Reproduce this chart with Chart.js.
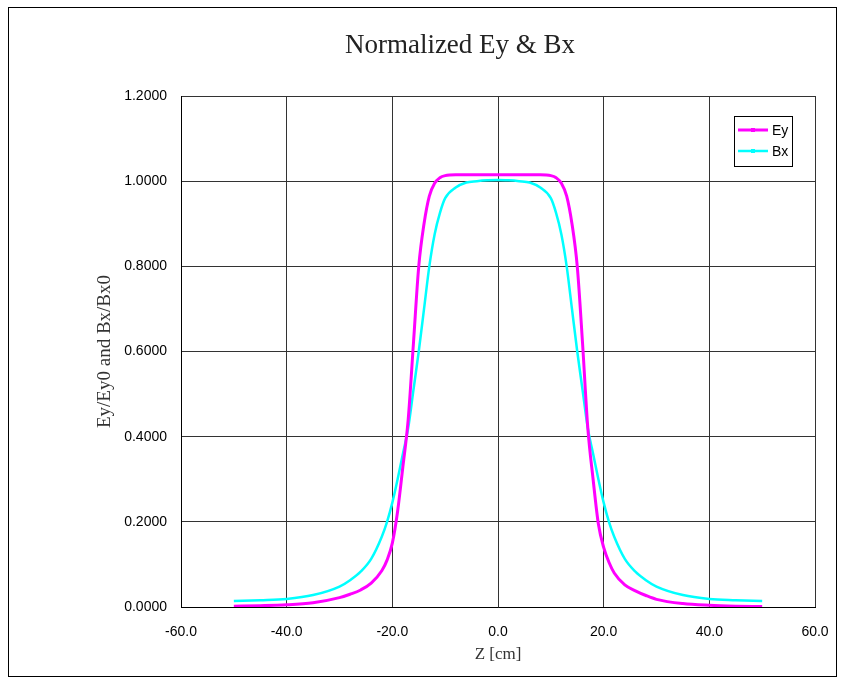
<!DOCTYPE html>
<html>
<head>
<meta charset="utf-8">
<script src="https://cdn.jsdelivr.net/npm/chart.js@4.4.0/dist/chart.umd.min.js"></script>
<style>
  html, body { margin: 0; padding: 0; background: #fff; }
  #wrap { width: 841px; height: 677px; }
</style>
</head>
<body>
<div id="wrap"><canvas id="chart" width="841" height="677"></canvas></div>
<script>
// Z positions [cm]
const zValues = [-50, -45, -40, -35, -30, -28, -26, -24, -22, -21, -20, -19, -18, -17, -16, -15, -14, -13, -12, -11, -10, -8, -6, -4, -2,
  0, 2, 4, 6, 8, 10, 11, 12, 13, 14, 15, 16, 17, 18, 19, 20, 21, 22, 24, 26, 28, 30, 35, 40, 45, 50];

// Ey/Ey0
const eyValues = [0.002, 0.003, 0.005, 0.010, 0.022, 0.030, 0.040, 0.056, 0.085, 0.110, 0.150, 0.225, 0.330, 0.440, 0.620, 0.800, 0.900, 0.965, 0.995, 1.008, 1.013, 1.015, 1.015, 1.015, 1.015,
  1.015, 1.015, 1.015, 1.015, 1.015, 1.013, 1.008, 0.995, 0.965, 0.900, 0.800, 0.620, 0.420, 0.300, 0.195, 0.140, 0.105, 0.080, 0.052, 0.038, 0.027, 0.018, 0.008, 0.004, 0.002, 0.001];

// Bx/Bx0
const bxValues = [0.014, 0.016, 0.019, 0.028, 0.048, 0.063, 0.083, 0.113, 0.165, 0.200, 0.245, 0.300, 0.360, 0.420, 0.510, 0.600, 0.700, 0.800, 0.875, 0.925, 0.960, 0.985, 0.997, 1.000, 1.002,
  1.003, 1.002, 1.000, 0.997, 0.985, 0.960, 0.925, 0.875, 0.800, 0.700, 0.600, 0.510, 0.420, 0.360, 0.300, 0.245, 0.200, 0.165, 0.113, 0.083, 0.063, 0.048, 0.028, 0.019, 0.016, 0.014];

const seriesNames = ["Ey", "Bx"];
const seriesColors = ["#ff00ff", "#00ffff"];

const xTicks = [-60, -40, -20, 0, 20, 40, 60];
const yTicks = [0, 0.2, 0.4, 0.6, 0.8, 1.0, 1.2];

const chartTitle = "Normalized Ey & Bx";

const toPoints = (vals) => zValues.map((z, i) => ({ x: z, y: vals[i] }));

// frame, title and legend box drawn by hand
const framePlugin = {
  id: "frame",
  beforeDraw(chart) {
    const ctx = chart.ctx;
    ctx.save();
    ctx.fillStyle = "#fff";
    ctx.fillRect(0, 0, chart.width, chart.height);
    ctx.restore();
  },
  afterDraw(chart) {
    const ctx = chart.ctx;
    ctx.save();
    ctx.strokeStyle = "#000";
    ctx.lineWidth = 1;
    ctx.strokeRect(8.5, 7.5, 828, 669);

    // title, a bit left of the plot centre like the original
    ctx.fillStyle = "#222";
    ctx.font = "27px 'Liberation Serif', 'Times New Roman', serif";
    ctx.textAlign = "center";
    ctx.textBaseline = "middle";
    ctx.fillText(chartTitle, 460, 46);

    // legend
    const a = chart.chartArea;
    const bx = a.right - 81, by = a.top + 20, bw = 58, bh = 50;
    ctx.fillStyle = "#fff";
    ctx.fillRect(bx, by, bw, bh);
    ctx.strokeStyle = "#000";
    ctx.strokeRect(bx + 0.5, by + 0.5, bw, bh);
    ctx.font = "14px 'Liberation Sans', Arial, sans-serif";
    ctx.textAlign = "left";
    chart.data.datasets.forEach((ds, i) => {
      const ly = by + 14 + i * 21;
      ctx.strokeStyle = ds.borderColor;
      ctx.lineWidth = ds.borderWidth;
      ctx.beginPath();
      ctx.moveTo(bx + 4, ly);
      ctx.lineTo(bx + 34, ly);
      ctx.stroke();
      ctx.fillStyle = ds.borderColor;
      ctx.fillRect(bx + 17, ly - 2, 4, 4);
      ctx.fillStyle = "#000";
      ctx.fillText(ds.label, bx + 38, ly + 1);
    });
    ctx.restore();
  }
};

new Chart(document.getElementById("chart"), {
  type: "line",
  data: {
    datasets: [
      {
        label: seriesNames[0],
        data: toPoints(eyValues),
        borderColor: seriesColors[0],
        backgroundColor: seriesColors[0],
        borderWidth: 3,
        pointRadius: 0,
        cubicInterpolationMode: "monotone",
      },
      {
        label: seriesNames[1],
        data: toPoints(bxValues),
        borderColor: seriesColors[1],
        backgroundColor: seriesColors[1],
        borderWidth: 2.5,
        pointRadius: 0,
        cubicInterpolationMode: "monotone",
      },
    ],
  },
  options: {
    responsive: false,
    animation: false,
    layout: { padding: { left: 80, right: 26, top: 96, bottom: 0 } },
    scales: {
      x: {
        type: "linear",
        min: -60,
        max: 60,
        afterBuildTicks: (s) => { s.ticks = xTicks.map((v) => ({ value: v })); },
        afterFit: (s) => { s.height = 70; s.paddingLeft = 0; s.paddingRight = 0; },
        ticks: {
          padding: 17,
          color: "#000",
          font: { family: "'Liberation Sans', Arial, sans-serif", size: 14 },
          callback: (v) => v.toFixed(1),
        },
        grid: { color: "#333", drawTicks: false },
        border: { color: "#000", width: 1 },
        title: {
          display: true,
          text: "Z [cm]",
          color: "#333",
          font: { family: "'Liberation Serif', 'Times New Roman', serif", size: 17 },
          padding: { top: 0, bottom: 12 },
        },
      },
      y: {
        min: 0,
        max: 1.2,
        afterBuildTicks: (s) => { s.ticks = yTicks.map((v) => ({ value: v })); },
        afterFit: (s) => { s.width = 101; },
        ticks: {
          padding: 14,
          color: "#000",
          font: { family: "'Liberation Sans', Arial, sans-serif", size: 14 },
          callback: (v) => v.toFixed(4),
        },
        grid: { color: "#333", drawTicks: false },
        border: { color: "#000", width: 1 },
        title: {
          display: true,
          text: "Ey/Ey0 and Bx/Bx0",
          color: "#333",
          font: { family: "'Liberation Serif', 'Times New Roman', serif", size: 19 },
          padding: { top: 14, bottom: 0 },
        },
      },
    },
    plugins: {
      legend: { display: false },
      tooltip: { enabled: false },
      title: { display: false },
    },
  },
  plugins: [framePlugin],
});
</script>
</body>
</html>
